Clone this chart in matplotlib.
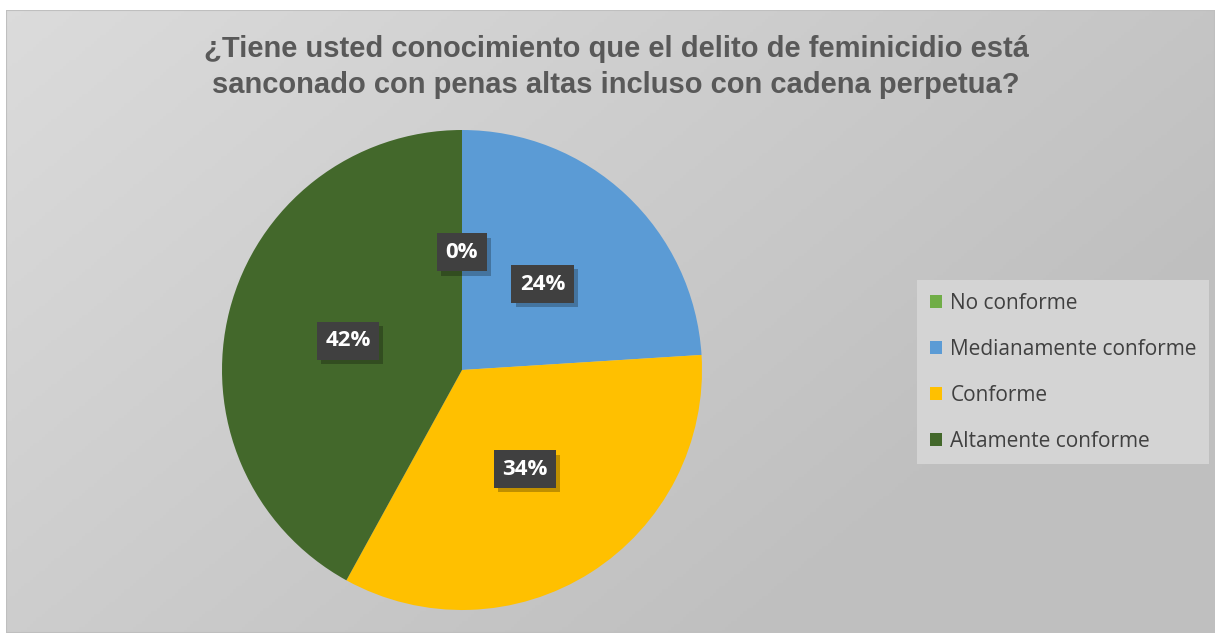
import numpy as np
import matplotlib
matplotlib.use("Agg")
from matplotlib import pyplot as plt
from matplotlib.patches import Rectangle, Patch
import matplotlib.patheffects as pe

categories = ["No conforme", "Medianamente conforme", "Conforme", "Altamente conforme"]
values = [0, 24, 34, 42]
colors = ["#70AD47", "#5B9BD5", "#FFC000", "#43682B"]
title = ("¿Tiene usted conocimiento que el delito de feminicidio está\n"
         "sanconado con penas altas incluso con cadena perpetua?")

W, H = 1215, 633
fig = plt.figure(figsize=(W / 100, H / 100), dpi=100)
fig.patch.set_facecolor("white")

# gradient chart area
bg = fig.add_axes([6 / W, 0, (W - 6) / W, (H - 10) / H])
bg.set_axis_off()
yy, xx = np.mgrid[0:1:200j, 0:1:400j]
t = np.clip((xx * 0.8 + (1 - yy) * 0.5) / 1.0, 0, 1)
shade = 0.86 - 0.11 * t
bg.imshow(np.dstack([shade, shade, shade]), origin="lower", extent=[0, 1, 0, 1],
          aspect="auto", zorder=0)
bg.add_patch(Rectangle((0, 0), 1, 1, fill=False, edgecolor="#bfbfbf", lw=1.5,
                       transform=bg.transAxes, zorder=1))
bg.set_xlim(0, 1)
bg.set_ylim(0, 1)

fig.text(616 / W, 1 - 67 / H, title, ha="center", va="center", fontsize=21,
         fontweight="bold", color="#595959", family="Liberation Sans",
         linespacing=1.35)

cx, cy, r = 462, H - 370, 240
ax = fig.add_axes([(cx - r) / W, (cy - r) / H, 2 * r / W, 2 * r / H])
wedges, texts, autotexts = ax.pie(values, colors=colors, startangle=90, counterclock=False,
                                  autopct=lambda p: f"{p:.0f}%", pctdistance=0.49,
                                  wedgeprops=dict(linewidth=0),
                                  textprops=dict(color="white", fontsize=16,
                                                 fontweight="bold", family="Open Sans"))
ax.set_xlim(-1, 1)
ax.set_ylim(-1, 1)
for at in autotexts:
    at.set_bbox(dict(boxstyle="square,pad=0.38", facecolor="#404040", edgecolor="none"))
    at.get_bbox_patch().set_path_effects([
        pe.SimplePatchShadow(offset=(3, -3), shadow_rgbFace="black", alpha=0.25),
        pe.Normal()])

handles = [Patch(facecolor=c, edgecolor="none") for c in colors]
leg = fig.legend(handles, categories, loc="upper left",
                 bbox_to_anchor=(917 / W, 1 - 280 / H), borderaxespad=0,
                 frameon=True, fancybox=False, handlelength=0.6, handleheight=0.6,
                 handletextpad=0.4, labelspacing=1.2, borderpad=0.6,
                 prop=dict(family="Open Sans", size=15), labelcolor="#404040")
leg.get_frame().set_facecolor("#d4d4d4")
leg.get_frame().set_edgecolor("none")
leg.get_frame().set_alpha(1)

fig.savefig("out.png", dpi=100, facecolor="white")
